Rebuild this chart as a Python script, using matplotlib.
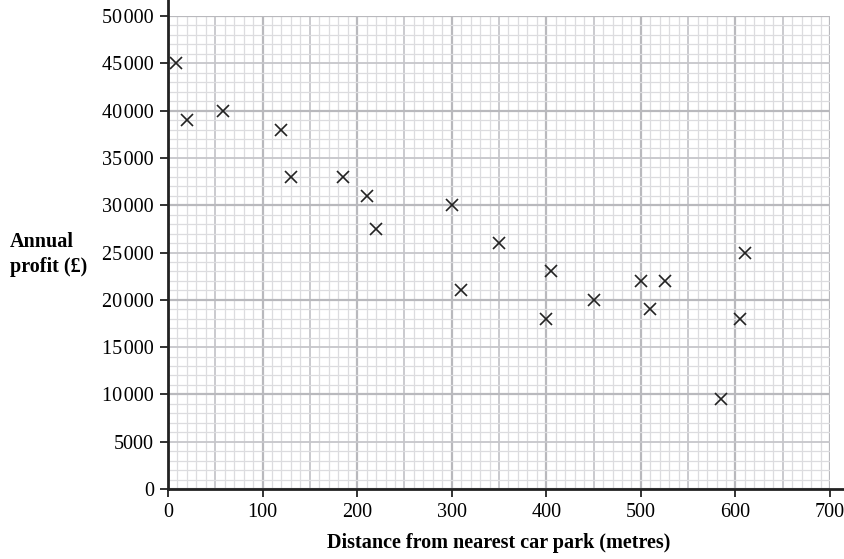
import matplotlib
matplotlib.use('Agg')
from matplotlib import pyplot as plt
from matplotlib.ticker import MultipleLocator, FuncFormatter
import numpy as np

DISTANCE = [8, 20, 58, 120, 130, 185, 210, 220, 300, 310, 350,
            400, 405, 450, 500, 510, 525, 585, 605, 610]
PROFIT = [45000, 39000, 40000, 38000, 33000, 33000, 31000, 27500, 30000, 21000, 26000,
          18000, 23000, 20000, 22000, 19000, 22000, 9500, 18000, 25000]
X_LABEL = 'Distance from nearest car park (metres)'
Y_LABEL = 'Annual\nprofit (£)'


def fmt(v, pos):
    v = int(round(v))
    if v >= 10000:
        s = '{:,}'.format(v).replace(',', '\u200a')
    else:
        s = str(v)
    return s


def main():
    plt.rcParams['font.family'] = ['Liberation Serif', 'DejaVu Serif']
    fig = plt.figure(figsize=(8.45, 5.59), dpi=100)
    ax = fig.add_axes([0.1988, 0.1252, 0.7835, 0.8462])
    ax.set_xlim(0, 700)
    ax.set_ylim(0, 50000)

    # graph paper grid
    for x in np.arange(0, 701, 10):
        if x % 100 == 0:
            c, lw = '#b9b9bd', 1.6
        elif x % 50 == 0:
            c, lw = '#c6c6ca', 1.3
        else:
            c, lw = '#dcdcdf', 0.9
        ax.axvline(x, color=c, lw=lw, zorder=0)
    for y in np.arange(0, 50001, 1000):
        if y % 10000 == 0:
            c, lw = '#b9b9bd', 1.6
        elif y % 5000 == 0:
            c, lw = '#c6c6ca', 1.3
        else:
            c, lw = '#dcdcdf', 0.9
        ax.axhline(y, color=c, lw=lw, zorder=0)

    ax.plot(DISTANCE, PROFIT, linestyle='none', marker='x', color='#222222',
            markersize=8, markeredgewidth=1.2, zorder=3)

    for s in ['top', 'right', 'left', 'bottom']:
        ax.spines[s].set_visible(False)
    # extended axis lines
    ax.plot([0, 0], [0, 1.035], transform=ax.transAxes, color='#222222', lw=2, clip_on=False, zorder=4)
    ax.plot([0, 1.024], [0, 0], transform=ax.transAxes, color='#222222', lw=2, clip_on=False, zorder=4)

    ax.xaxis.set_major_locator(MultipleLocator(100))
    ax.yaxis.set_major_locator(MultipleLocator(5000))
    ax.yaxis.set_major_formatter(FuncFormatter(fmt))
    ax.tick_params(direction='out', length=6, width=1.3, color='#222222', labelsize=14.5)
    ax.tick_params(axis='y', pad=4)
    ax.tick_params(axis='x', pad=4)

    ax.set_xlabel(X_LABEL, fontsize=14.5, fontweight='bold', labelpad=8)
    fig.text(0.012, 0.545, Y_LABEL, fontsize=14.5, fontweight='bold', ha='left', va='center',
             linespacing=1.3)

    fig.savefig('out.png', dpi=100)


if __name__ == '__main__':
    main()
